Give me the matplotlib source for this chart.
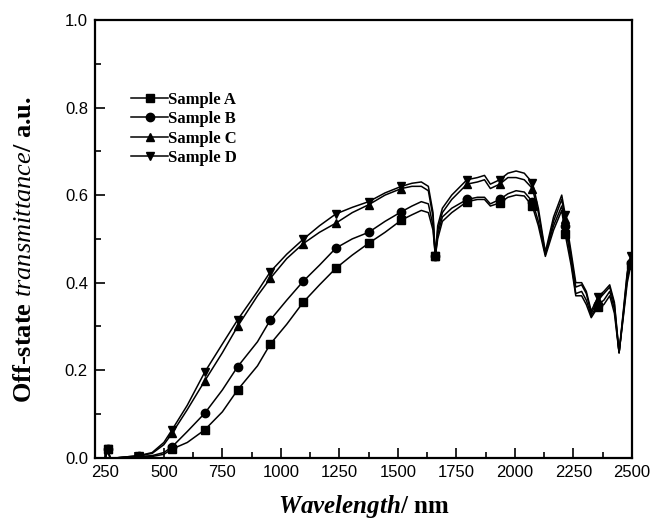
import matplotlib
matplotlib.use("Agg")
import matplotlib.pyplot as plt
from matplotlib.ticker import MultipleLocator

plt.rcParams['mathtext.fontset'] = 'custom'
plt.rcParams['mathtext.it'] = 'Liberation Serif:italic:bold'
plt.rcParams['mathtext.cal'] = 'Liberation Serif:italic'
plt.rcParams['mathtext.rm'] = 'Liberation Serif:bold'

# wavelength grid (nm)
wl = [250, 260, 270, 300, 395, 450, 500, 535, 600, 675, 750, 815, 900, 955,
      1025, 1095, 1165, 1235, 1305, 1375, 1445, 1515, 1560, 1600, 1630, 1650,
      1660, 1670, 1690, 1730, 1795, 1840, 1870, 1895, 1935, 1970, 2005, 2040,
      2075, 2100, 2130, 2165, 2200, 2215, 2240, 2260, 2285, 2305, 2326, 2355,
      2380, 2405, 2425, 2445, 2465, 2480, 2495]

sample_a = [0.0, 0.02, 0.0, 0.0, 0.002, 0.003, 0.008, 0.02, 0.035, 0.064, 0.105,
            0.155, 0.21, 0.26, 0.305, 0.355, 0.395, 0.433, 0.463, 0.49, 0.515,
            0.543, 0.555, 0.565, 0.56, 0.52, 0.46, 0.50, 0.54, 0.56, 0.585, 0.59,
            0.59, 0.575, 0.582, 0.595, 0.60, 0.598, 0.574, 0.53, 0.46, 0.52,
            0.565, 0.51, 0.44, 0.37, 0.37, 0.35, 0.32, 0.345, 0.35, 0.37, 0.33,
            0.24, 0.33, 0.40, 0.44]
sample_b = [0.0, 0.02, 0.0, 0.0, 0.003, 0.005, 0.012, 0.025, 0.06, 0.102, 0.155,
            0.208, 0.265, 0.315, 0.36, 0.403, 0.44, 0.479, 0.50, 0.515, 0.54,
            0.562, 0.575, 0.585, 0.58, 0.53, 0.46, 0.51, 0.55, 0.57, 0.59, 0.595,
            0.595, 0.58, 0.59, 0.603, 0.61, 0.607, 0.585, 0.54, 0.465, 0.53,
            0.575, 0.53, 0.45, 0.375, 0.38, 0.36, 0.325, 0.35, 0.36, 0.38, 0.34,
            0.24, 0.335, 0.41, 0.445]
sample_c = [0.0, 0.02, 0.0, 0.0, 0.005, 0.01, 0.03, 0.056, 0.11, 0.176, 0.24,
            0.30, 0.37, 0.41, 0.455, 0.489, 0.515, 0.536, 0.56, 0.578, 0.60,
            0.615, 0.62, 0.62, 0.61, 0.55, 0.46, 0.52, 0.56, 0.59, 0.625, 0.63,
            0.635, 0.615, 0.625, 0.64, 0.64, 0.635, 0.615, 0.56, 0.465, 0.54,
            0.59, 0.545, 0.46, 0.39, 0.395, 0.375, 0.33, 0.36, 0.375, 0.39, 0.35,
            0.24, 0.34, 0.42, 0.455]
sample_d = [0.0, 0.02, 0.0, 0.0, 0.005, 0.012, 0.035, 0.064, 0.12, 0.196, 0.26,
            0.315, 0.38, 0.425, 0.465, 0.499, 0.53, 0.557, 0.572, 0.585, 0.605,
            0.62, 0.627, 0.63, 0.62, 0.56, 0.46, 0.53, 0.57, 0.60, 0.635, 0.64,
            0.645, 0.625, 0.635, 0.65, 0.655, 0.65, 0.628, 0.57, 0.47, 0.55,
            0.60, 0.555, 0.47, 0.40, 0.40, 0.38, 0.335, 0.368, 0.38, 0.395, 0.355,
            0.24, 0.345, 0.425, 0.46]

labels = ['Sample A', 'Sample B', 'Sample C', 'Sample D']
markers = ['s', 'o', '^', 'v']
# marker every 140 nm
mark_wl = [260, 395, 535, 675, 815, 955, 1095, 1235, 1375, 1515, 1660, 1795,
           1935, 2075, 2215, 2355, 2495]
mark_idx = [wl.index(w) for w in mark_wl]

fig = plt.figure(figsize=(6.54, 5.25), dpi=100)
ax = fig.add_axes([0.145, 0.128, 0.822, 0.834])

for ys, lab, m in zip([sample_a, sample_b, sample_c, sample_d], labels, markers):
    ax.plot(wl, ys, color='black', lw=1.1, marker=m, markersize=6,
            markevery=mark_idx, label=lab)

ax.set_xlim(205, 2502)
ax.set_ylim(0, 1.0)
ax.xaxis.set_minor_locator(MultipleLocator(125))
ax.yaxis.set_major_locator(MultipleLocator(0.2))
ax.yaxis.set_minor_locator(MultipleLocator(0.1))
ax.set_xticks(range(250, 2501, 250))
ax.yaxis.set_major_formatter(plt.FormatStrFormatter('%.1f'))
ax.tick_params(which='both', direction='in', top=False, right=False, width=1.2)
ax.tick_params(which='major', length=7, labelsize=12, pad=5)
ax.tick_params(which='minor', length=4)
for lbl in ax.get_xticklabels() + ax.get_yticklabels():
    lbl.set_fontfamily('Liberation Sans')
for s in ax.spines.values():
    s.set_linewidth(1.6)

ax.set_xlabel(r'$Wavelength$/ nm', fontsize=18, fontfamily='Liberation Serif',
              fontweight='bold')
ax.set_ylabel(r'Off-state $\mathcal{transmittance}$/ a.u.', fontsize=19,
              fontfamily='Liberation Serif', fontweight='bold')
ax.xaxis.set_label_coords(0.5, -0.08)
ax.yaxis.set_label_coords(-0.11, 0.475)

leg = ax.legend(loc='upper left', bbox_to_anchor=(0.04, 0.87), frameon=False,
                prop={'family': 'Liberation Serif', 'weight': 'bold', 'size': 12},
                handlelength=2.2, handletextpad=0.0, labelspacing=0.2)

fig.savefig('out.png', dpi=100)
